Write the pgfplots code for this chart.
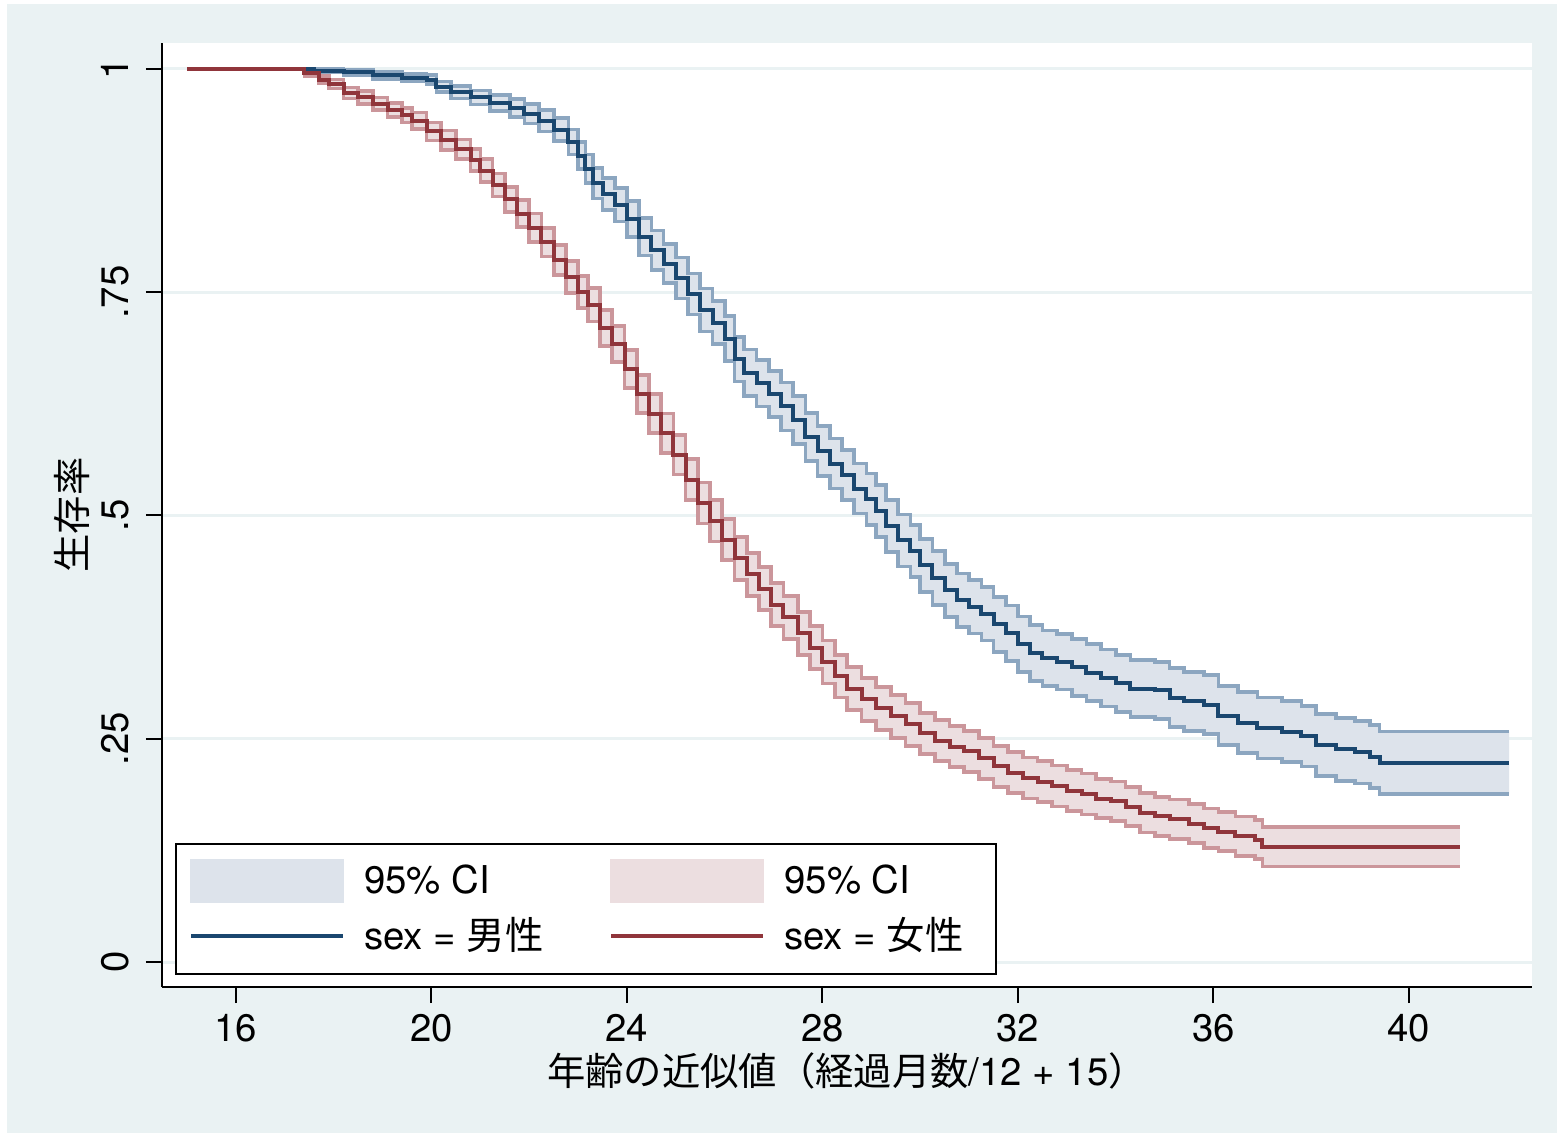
\documentclass[border=0pt]{standalone}
\usepackage{pgfplots}
\pgfplotsset{compat=1.18}
\usepackage{pgfplotstable}
\usepgfplotslibrary{fillbetween}
\usepackage{fontspec}
\setmainfont{TeX Gyre Heros}
\newfontfamily\cjk{Noto Sans CJK JP}

\definecolor{bgc}{RGB}{234,242,243}
\definecolor{mline}{RGB}{26,71,111}
\definecolor{mfill}{RGB}{221,227,235}
\definecolor{mci}{RGB}{140,166,192}
\definecolor{fline}{RGB}{144,53,59}
\definecolor{ffill}{RGB}{236,222,224}
\definecolor{fci}{RGB}{203,150,155}

\pgfplotsset{
  layers/withbg/.define layer set={bg,axis background,axis grid,axis ticks,axis lines,axis tick labels,pre main,main,axis descriptions,axis foreground}{grid style={/pgfplots/on layer=axis grid}},
  set layers=withbg,
}

% male: x, survival, lower, upper
\pgfplotstableread{
x s lo hi
15.0 1.000 1.000 1.000
17.2 1.000 1.000 1.000
17.6 0.998 0.996 1.000
18.2 0.996 0.993 0.999
18.8 0.993 0.989 0.997
19.4 0.990 0.986 0.994
19.9 0.988 0.983 0.993
20.1 0.980 0.974 0.986
20.4 0.974 0.967 0.981
20.8 0.968 0.960 0.976
21.2 0.962 0.953 0.971
21.6 0.956 0.946 0.966
21.9 0.950 0.939 0.961
22.2 0.942 0.930 0.954
22.5 0.932 0.919 0.945
22.8 0.918 0.904 0.932
23.0 0.903 0.888 0.918
23.15 0.888 0.872 0.904
23.3 0.872 0.855 0.889
23.5 0.860 0.842 0.878
23.75 0.848 0.829 0.867
24.0 0.832 0.812 0.852
24.25 0.812 0.791 0.833
24.5 0.797 0.775 0.819
24.75 0.782 0.760 0.804
25.0 0.766 0.743 0.789
25.25 0.748 0.725 0.771
25.5 0.730 0.706 0.754
25.75 0.716 0.692 0.740
26.0 0.698 0.673 0.723
26.2 0.675 0.650 0.700
26.4 0.660 0.634 0.686
26.65 0.648 0.622 0.674
26.9 0.636 0.610 0.662
27.15 0.622 0.595 0.649
27.4 0.607 0.580 0.634
27.65 0.588 0.561 0.615
27.9 0.572 0.544 0.600
28.15 0.558 0.530 0.586
28.4 0.545 0.517 0.573
28.65 0.530 0.502 0.558
28.9 0.518 0.489 0.547
29.1 0.505 0.476 0.534
29.3 0.488 0.459 0.517
29.55 0.472 0.443 0.501
29.8 0.460 0.431 0.489
30.0 0.444 0.414 0.474
30.25 0.430 0.400 0.460
30.5 0.416 0.386 0.446
30.75 0.405 0.375 0.435
31.0 0.398 0.368 0.428
31.25 0.390 0.360 0.420
31.5 0.378 0.347 0.409
31.75 0.368 0.337 0.399
32.0 0.356 0.325 0.387
32.25 0.346 0.315 0.377
32.5 0.340 0.309 0.371
32.8 0.336 0.305 0.367
33.1 0.330 0.298 0.362
33.4 0.324 0.292 0.356
33.7 0.318 0.286 0.350
34.0 0.312 0.280 0.344
34.3 0.306 0.274 0.338
34.8 0.304 0.272 0.336
35.1 0.296 0.263 0.329
35.4 0.292 0.259 0.325
35.8 0.288 0.255 0.321
36.1 0.276 0.243 0.309
36.5 0.268 0.234 0.302
36.9 0.262 0.228 0.296
37.4 0.258 0.224 0.292
37.8 0.253 0.219 0.287
38.1 0.243 0.208 0.278
38.5 0.238 0.203 0.273
38.9 0.235 0.200 0.270
39.2 0.230 0.195 0.265
39.4 0.223 0.188 0.258
42.05 0.223 0.188 0.258
}\male

% female: x, survival, lower, upper
\pgfplotstableread{
x s lo hi
15.0 1.000 1.000 1.000
17.2 1.000 1.000 1.000
17.4 0.995 0.992 0.998
17.7 0.988 0.984 0.992
17.9 0.983 0.978 0.988
18.2 0.973 0.967 0.979
18.5 0.968 0.961 0.975
18.8 0.961 0.954 0.968
19.1 0.954 0.946 0.962
19.4 0.948 0.940 0.956
19.6 0.942 0.933 0.951
19.9 0.930 0.920 0.940
20.2 0.920 0.909 0.931
20.5 0.910 0.899 0.921
20.8 0.898 0.886 0.910
21.0 0.886 0.873 0.899
21.25 0.870 0.857 0.883
21.5 0.854 0.840 0.868
21.75 0.838 0.823 0.853
22.0 0.822 0.806 0.838
22.25 0.806 0.790 0.822
22.5 0.786 0.769 0.803
22.75 0.767 0.749 0.785
23.0 0.750 0.732 0.768
23.2 0.736 0.717 0.755
23.45 0.710 0.690 0.730
23.7 0.692 0.672 0.712
23.95 0.664 0.643 0.685
24.2 0.636 0.615 0.657
24.45 0.614 0.592 0.636
24.7 0.592 0.570 0.614
24.95 0.568 0.546 0.590
25.2 0.540 0.517 0.563
25.45 0.514 0.491 0.537
25.7 0.494 0.471 0.517
25.95 0.473 0.450 0.496
26.2 0.452 0.428 0.476
26.45 0.434 0.410 0.458
26.7 0.418 0.394 0.442
26.95 0.400 0.376 0.424
27.2 0.386 0.362 0.410
27.5 0.368 0.344 0.392
27.75 0.352 0.328 0.376
28.0 0.336 0.312 0.360
28.25 0.320 0.296 0.344
28.5 0.306 0.282 0.330
28.8 0.294 0.270 0.318
29.1 0.284 0.260 0.308
29.4 0.275 0.251 0.299
29.7 0.266 0.242 0.290
30.0 0.256 0.233 0.279
30.3 0.248 0.225 0.271
30.6 0.241 0.218 0.264
30.9 0.236 0.213 0.259
31.2 0.228 0.205 0.251
31.5 0.219 0.196 0.242
31.8 0.212 0.189 0.235
32.1 0.206 0.183 0.229
32.4 0.202 0.179 0.225
32.7 0.197 0.174 0.220
33.0 0.192 0.169 0.215
33.3 0.188 0.165 0.211
33.6 0.183 0.161 0.205
33.9 0.180 0.158 0.202
34.2 0.174 0.152 0.196
34.5 0.167 0.145 0.189
34.8 0.163 0.141 0.185
35.1 0.160 0.138 0.182
35.5 0.155 0.133 0.177
35.8 0.150 0.128 0.172
36.1 0.146 0.124 0.168
36.45 0.141 0.119 0.163
36.85 0.137 0.115 0.159
37.0 0.129 0.107 0.151
41.04 0.129 0.107 0.151
}\female

\begin{document}
\begin{tikzpicture}
\begin{axis}[
  scale only axis, width=411pt, height=283.2pt,
  xmin=14.486, xmax=42.517, ymin=-0.028, ymax=1.029,
  axis x line*=bottom, axis y line*=left,
  axis line style={-, black, line width=0.6pt},
  font=\fontsize{11.5}{13.8}\selectfont,
  /pgf/number format/assume math mode=true,
  xtick={16,20,...,40},
  ytick={0,0.25,0.5,0.75,1}, yticklabels={0,.25,.5,.75,1},
  tick align=outside, major tick length=4.8pt,
  tick style={black, line width=0.6pt},
  yticklabel style={rotate=90, anchor=south},
  yticklabel shift=1.6pt,
  ymajorgrids, grid style={bgc, line width=0.9pt},
  xlabel={{\cjk 年齢の近似値（経過月数}/12 + 15{\cjk ）}},
  xlabel style={at={(axis description cs:0.5,-0.1038)}, anchor=base},
  ylabel={{\cjk 生存率}},
  ylabel style={at={(axis description cs:-0.0657,0.5)}, anchor=center, rotate=0},
  legend columns=2,
  legend cell align=left,
  legend style={at={(axis description cs:0.0095,0.0126)}, anchor=south west,
    draw=black, line width=0.6pt, fill=white,
    font=\fontsize{11.5}{13.8}\selectfont,
    inner xsep=4pt, inner ysep=4.5pt, row sep=2.6pt,
    nodes={inner xsep=0pt, inner ysep=1.5pt},
    /tikz/every odd column/.append style={column sep=5.7pt},
    /tikz/every even column/.append style={column sep=19.8pt}},
]
% bands
\addplot[name path=mu, const plot, draw=none, forget plot] table[x=x,y=hi]{\male};
\addplot[name path=ml, const plot, draw=none, forget plot] table[x=x,y=lo]{\male};
\addplot[mfill, forget plot] fill between[of=mu and ml];
\addplot[const plot, mci, line width=1.1pt, forget plot] table[x=x,y=hi]{\male};
\addplot[const plot, mci, line width=1.1pt, forget plot] table[x=x,y=lo]{\male};
\addplot[name path=fu, const plot, draw=none, forget plot] table[x=x,y=hi]{\female};
\addplot[name path=fl, const plot, draw=none, forget plot] table[x=x,y=lo]{\female};
\addplot[ffill, forget plot] fill between[of=fu and fl];
\addplot[const plot, fci, line width=1.1pt, forget plot] table[x=x,y=hi]{\female};
\addplot[const plot, fci, line width=1.1pt, forget plot] table[x=x,y=lo]{\female};
% survival curves
\addplot[const plot, mline, line width=1.2pt, forget plot] table[x=x,y=s]{\male};
\addplot[const plot, fline, line width=1.2pt, forget plot] table[x=x,y=s]{\female};
% legend
\addlegendimage{legend image code/.code={\fill[mfill] (0pt,-6.3pt) rectangle (45.6pt,6.3pt);}}
\addlegendentry{95\% CI}
\addlegendimage{legend image code/.code={\fill[ffill] (0pt,-6.3pt) rectangle (45.6pt,6.3pt);}}
\addlegendentry{\makebox[59.5pt][l]{95\% CI}}
\addlegendimage{legend image code/.code={\draw[mline, line width=1.2pt] (0pt,0pt) -- (45.6pt,0pt);}}
\addlegendentry{sex = {\cjk 男性}}
\addlegendimage{legend image code/.code={\draw[fline, line width=1.2pt] (0pt,0pt) -- (45.6pt,0pt);}}
\addlegendentry{\makebox[59.5pt][l]{sex = {\cjk 女性}}}
\end{axis}
\begin{pgfonlayer}{bg}
\fill[white] (-48.6pt,-45pt) rectangle (420.6pt,296.1pt);
\fill[bgc] (-46.5pt,-43.8pt) rectangle (418.5pt,294.9pt);
\fill[white] (0pt,0pt) rectangle (411pt,283.2pt);
\end{pgfonlayer}
\pgfresetboundingbox
\useasboundingbox (-48.6pt,-45pt) rectangle (420.6pt,296.1pt);
\end{tikzpicture}
\end{document}
